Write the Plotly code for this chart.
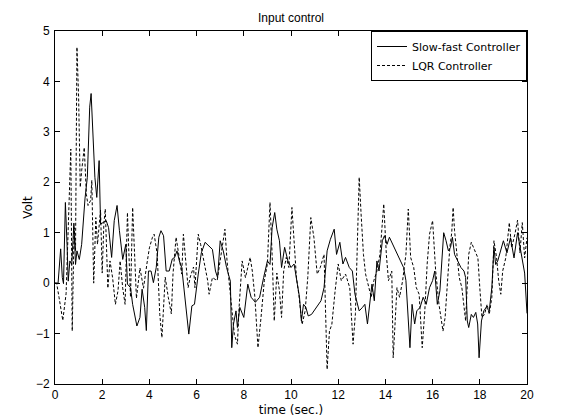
import plotly.graph_objects as go

# Slow-fast controller (solid line)
t_slow = [0, 0.13, 0.24, 0.31, 0.36, 0.44, 0.51, 0.56, 0.63, 0.71, 0.8, 0.87, 0.93, 1.03, 1.13,
          1.27, 1.37, 1.47, 1.53, 1.61, 1.69, 1.77, 1.87, 1.93, 2.04, 2.17, 2.27, 2.4, 2.51, 2.63,
          2.73, 2.87, 3.0, 3.07, 3.2, 3.29, 3.47, 3.6, 3.69, 3.8, 3.87, 3.96, 4.07, 4.17, 4.29,
          4.4, 4.49, 4.6, 4.71, 4.84, 4.97, 5.07, 5.17, 5.27, 5.37, 5.47, 5.57, 5.67, 5.8, 5.91,
          6.07, 6.2, 6.36, 6.53, 6.67, 6.8, 6.89, 7.0, 7.13, 7.27, 7.43, 7.49, 7.56, 7.67, 7.73,
          7.83, 8.0, 8.17, 8.31, 8.49, 8.67, 8.84, 9.0, 9.11, 9.2, 9.31, 9.4, 9.51, 9.6, 9.73,
          9.87, 10.0, 10.13, 10.27, 10.36, 10.44, 10.53, 10.63, 10.73, 10.87, 11.07, 11.27, 11.4,
          11.53, 11.67, 11.83, 11.93, 12.07, 12.2, 12.31, 12.47, 12.6, 12.71, 12.8, 12.89, 13.03,
          13.13, 13.24, 13.33, 13.43, 13.53, 13.64, 13.73, 13.87, 13.96, 14.07, 14.17, 14.31,
          14.44, 14.67, 14.77, 14.87, 14.95, 15.04, 15.13, 15.24, 15.33, 15.47, 15.6, 15.73,
          15.87, 16.0, 16.09, 16.2, 16.31, 16.4, 16.47, 16.57, 16.67, 16.76, 16.84, 16.93, 17.07,
          17.2, 17.33, 17.4, 17.47, 17.53, 17.64, 17.73, 17.83, 17.91, 17.97, 18.07, 18.17,
          18.27, 18.4, 18.51, 18.6, 18.67, 18.76, 18.87, 19.0, 19.15, 19.3, 19.45, 19.6, 19.75,
          19.9, 20.0]
v_slow = [0, 0, 0.68, 0.11, -0.01, 1.6, 0.77, 0.04, 0.44, 0.37, 1.19, 0.37, 0.64, 0.47, 0.77,
          1.67, 2.1, 3.49, 3.76, 2.96, 2.1, 1.7, 2.43, 1.17, 1.2, 1.24, 1.1, 0.51, 1.24, 1.54,
          1.04, 0.47, 0.77, -0.02, -0.09, -0.42, -0.85, -0.68, -0.12, -0.48, -0.94, 0.24, 0.24,
          0.01, 0.31, 0.91, 1.04, 0.94, 0.24, 0.24, 0.48, 0.51, 0.64, 0.44, 0.31, -0.15, -0.68,
          -1.01, -0.45, -0.42, 0.18, 0.6, 0.81, 0.74, 0.67, 0.24, 0.11, 0.84, 0.64, 0.31, 0.04,
          -1.28, -0.82, -0.55, -0.88, -0.48, -0.68, -0.02, -0.28, -0.38, -0.28, 0.11, 0.44,
          0.37, 1.1, 1.4, 1.07, 0.84, 0.31, 0.71, 0.44, 0.31, 0.38, -0.02, -0.28, -0.75, -0.42,
          -0.48, -0.65, -0.62, -0.48, -0.35, -0.09, 0.64, 0.87, 1.07, 0.57, 0.81, 0.38, 0.51,
          0.31, 0.24, -0.22, -0.42, -0.55, -0.48, -0.42, -0.81, -0.48, -0.02, -0.35, 0.44, 0.24,
          0.84, 0.94, 0.77, 0.91, 0.77, 0.64, 0.44, 0.31, 0.05, -0.68, -1.28, -0.42, -0.81,
          -0.55, -0.48, -0.28, -0.42, -0.09, 0.05, 0.24, -0.42, -0.15, 0.64, 1.0, 0.84, 0.64,
          0.71, 0.91, 0.57, 0.44, 0.31, 0.24, 0.11, -0.75, -0.88, -0.62, -0.68, -0.58, -0.81,
          -1.48, -0.75, -0.55, -0.48, -0.55, -0.09, 0.71, 0.37, 0.44, 0.64, 0.84, 0.6, 0.9,
          0.5, 1.0, 0.6, 0.2, -0.6]

# LQR controller (dotted line)
t_lqr = [0, 0.07, 0.17, 0.33, 0.47, 0.57, 0.67, 0.73, 0.81, 0.87, 0.93, 1.0, 1.07, 1.13, 1.24,
         1.33, 1.4, 1.51, 1.56, 1.64, 1.73, 1.8, 1.93, 2.0, 2.07, 2.13, 2.24, 2.33, 2.44, 2.56,
         2.67, 2.76, 2.87, 2.97, 3.07, 3.13, 3.2, 3.29, 3.37, 3.45, 3.6, 3.75, 3.9, 4.0, 4.13,
         4.2, 4.33, 4.44, 4.53, 4.67, 4.8, 4.93, 5.0, 5.13, 5.24, 5.37, 5.44, 5.53, 5.64, 5.73,
         5.87, 5.93, 6.07, 6.17, 6.33, 6.47, 6.53, 6.67, 6.87, 7.0, 7.2, 7.29, 7.47, 7.6, 7.73,
         7.8, 7.93, 8.07, 8.27, 8.36, 8.47, 8.6, 8.73, 8.87, 9.0, 9.11, 9.2, 9.29, 9.4, 9.51,
         9.6, 9.69, 9.8, 9.91, 10.04, 10.13, 10.23, 10.33, 10.47, 10.6, 10.71, 10.84, 10.97,
         11.11, 11.24, 11.4, 11.47, 11.53, 11.63, 11.73, 11.87, 12.0, 12.13, 12.31, 12.49,
         12.63, 12.73, 12.89, 12.97, 13.07, 13.16, 13.27, 13.4, 13.51, 13.64, 13.77, 13.93,
         14.04, 14.13, 14.27, 14.33, 14.4, 14.49, 14.6, 14.73, 14.87, 14.97, 15.07, 15.2,
         15.31, 15.43, 15.56, 15.67, 15.77, 15.87, 16.0, 16.13, 16.27, 16.36, 16.44, 16.53,
         16.63, 16.73, 16.81, 16.87, 16.93, 17.03, 17.13, 17.24, 17.33, 17.4, 17.47, 17.53,
         17.64, 17.73, 17.83, 17.92, 18.0, 18.09, 18.2, 18.31, 18.4, 18.51, 18.6, 18.71, 18.8,
         18.89, 18.97, 19.1, 19.25, 19.35, 19.5, 19.6, 19.7, 19.8, 19.9, 20.0]
v_lqr = [0, 0, -0.28, -0.74, -0.21, 1.1, 2.66, -0.95, 1.1, 0.64, 4.68, 3.7, 1.9, 2.23, 2.69,
         1.76, 1.54, 1.64, 2.04, 0.0, 1.3, 0.77, 1.45, 0.2, 1.17, 1.47, -0.1, 0.44, 0.11,
         -0.42, -0.15, 0.44, -0.1, -0.42, 1.4, 0.6, -0.28, 1.5, 0.6, -0.3, 0.3, -0.1, 0.4, 0.7,
         0.91, 0.97, 0.58, -0.62, -1.08, 0.12, -0.28, -0.61, 0.18, 0.91, 0.58, 0.18, 0.97, 0.44,
         -0.09, 0.12, 0.32, -0.09, 0.97, 0.77, 0.38, 0.05, -0.22, 0.11, 0.05, 0.44, 1.07, 0.44,
         -0.42, -1.02, -1.21, -0.48, 0.44, 0.11, 0.51, 0.24, -0.28, -1.28, -0.68, 0.05, 0.38,
         1.6, 0.57, -0.75, 0.2, -0.15, -0.68, 0.24, 0.51, 0.31, 1.5, 0.71, 0.11, -0.22, -0.82,
         -0.55, 0.11, 1.3, 0.91, 0.18, 0.31, 0.57, -0.55, -1.71, -0.95, -0.82, -0.15, 0.38,
         0.05, 0.18, -0.09, -1.21, -0.6, 2.1, 1.37, 0.57, 0.18, -0.02, -0.28, 0.05, 0.24, 0.57,
         1.57, 0.57, 0.05, 0.24, -1.48, -0.88, -0.09, -0.28, 0.05, 0.57, 1.47, 0.51, 0.31,
         -0.09, -0.22, -1.28, -0.55, 0.38, 0.97, 1.24, 0.24, -0.42, -0.68, -0.95, -0.68, -0.02,
         0.71, 1.0, 1.5, 1.04, 0.57, 0.11, -0.09, -0.55, -0.75, -0.02, 0.57, 0.81, 0.71, 0.57,
         0.5, -0.09, -0.68, -0.62, -0.42, -0.62, -0.28, 0.84, 0.51, 0.05, -0.22, 0.24, 0.5,
         1.2, 0.7, 1.0, 1.25, 0.6, 1.2, 0.5, 0.9]

tick_font = dict(family="Liberation Sans, Arial, sans-serif", size=12, color="black")
label_font = dict(family="DejaVu Sans, sans-serif", size=12, color="black")
legend_font = dict(family="DejaVu Sans, sans-serif", size=11, color="black")

fig = go.Figure()
fig.add_trace(go.Scatter(x=t_slow, y=v_slow, mode="lines", name="Slow-fast Controller",
                         line=dict(color="black", width=1)))
fig.add_trace(go.Scatter(x=t_lqr, y=v_lqr, mode="lines", name="LQR Controller",
                         line=dict(color="black", width=1, dash="3px,2px")))

axis_style = dict(showgrid=False, zeroline=False, showline=True, linecolor="black",
                  linewidth=1, mirror="ticks", ticks="inside", ticklen=5,
                  tickcolor="black", tickfont=tick_font)

fig.update_layout(
    width=571, height=419,
    margin=dict(l=47, r=52, t=23, b=39),
    paper_bgcolor="white", plot_bgcolor="white",
    font=label_font,
    title=dict(text="Input control", x=0.5, xref="paper", y=1 - 10 / 419,
               yanchor="middle", font=dict(family="Liberation Sans, Arial, sans-serif",
                                           size=12, color="black")),
    xaxis=dict(range=[0, 20], dtick=2, title=dict(text="time (sec.)", standoff=4, font=label_font),
               **axis_style),
    yaxis=dict(range=[-2, 5], dtick=1, ticklabelstandoff=2,
               title=dict(text="Volt", standoff=0, font=label_font), **axis_style),
    legend=dict(x=1, y=1, xanchor="right", yanchor="top", bgcolor="white",
                bordercolor="black", borderwidth=1, font=legend_font, itemwidth=30,
                tracegroupgap=0),
    showlegend=True,
)

fig.write_html("out.html")
